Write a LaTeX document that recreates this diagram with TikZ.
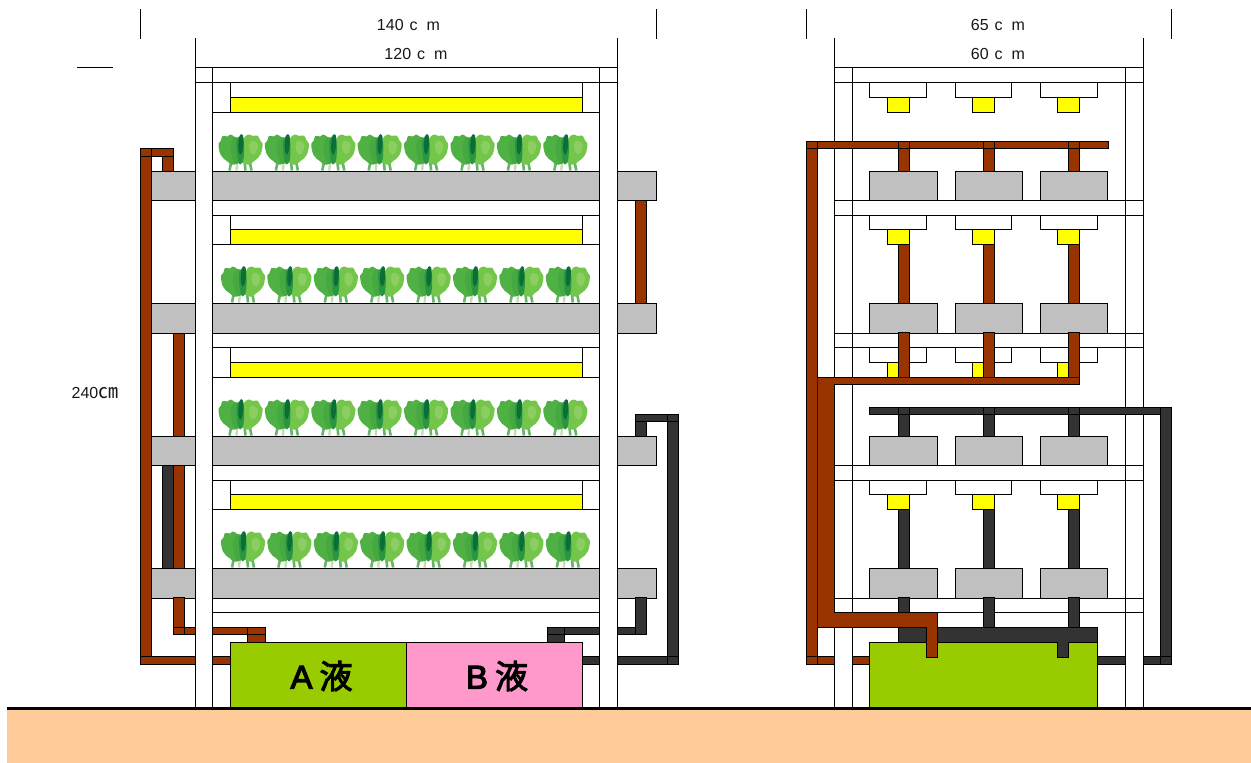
\documentclass[tikz,border=0pt]{standalone}
\usepackage{fontspec}
\setmainfont{Liberation Sans}
\newfontfamily\cjk{Noto Sans CJK JP}
\newfontfamily\cjkb[FakeBold=3]{Noto Sans CJK JP}
\newfontfamily\latb[FakeBold=3.5]{Liberation Sans}
\definecolor{brownp}{HTML}{993300}
\definecolor{darkp}{HTML}{333333}
\definecolor{tray}{HTML}{C0C0C0}
\definecolor{lamp}{HTML}{FFFF00}
\definecolor{tanka}{HTML}{99CC00}
\definecolor{tankb}{HTML}{FF99CC}
\definecolor{ground}{HTML}{FFCC99}
\definecolor{lfa}{HTML}{4FB043}
\definecolor{lfb}{HTML}{74C64A}
\definecolor{lfc}{HTML}{45A840}
\definecolor{lfd}{HTML}{0B6E36}
\definecolor{lfe}{HTML}{2A9642}
\definecolor{lff}{HTML}{8CCE62}
\definecolor{lfg}{HTML}{C5DDB5}
\definecolor{lfh}{HTML}{66B56A}
\tikzset{
  ln/.style={draw=black,line width=1pt,line cap=rect},
  bp/.style={ln,fill=brownp},
  dp/.style={ln,fill=darkp},
  gutter/.style={ln,fill=tray},
  lampbox/.style={ln,fill=lamp},
  dim/.style={inner sep=0pt,font=\fontsize{16}{16}\selectfont,text=black!90},
  tanklabel/.style={inner sep=0pt,font=\fontsize{33}{33}\selectfont},
  lettuce/.pic={
    \draw[line width=2.6pt,color=lfh] (-11,0)--(-9,-10) (11,0)--(9,-10) (5,0)--(4,-10);
    \draw[line width=2.4pt,color=lfg] (-4,0)--(-3,-10);
    \fill[lfa] plot[smooth cycle,tension=.6] coordinates {(-21.5,-21)(-22,-27)(-19.5,-30)(-18,-34.5)(-13,-34)(-10,-36)(-5,-33)(-1,-30)(1,-12)(-3,-7)(-9,-6)(-13,-9)(-17,-12)(-20,-16)};
    \fill[lfb] plot[smooth cycle,tension=.6] coordinates {(21.5,-21)(22,-27)(19.5,-30.5)(17,-35)(12,-34.5)(8,-36)(3,-31)(0,-12)(4,-7)(9,-6)(13,-9)(17,-12)(20,-16)};
    \fill[lfc] plot[smooth cycle,tension=.7] coordinates {(-10,-22)(-8,-31)(-3,-33)(0,-24)(1,-12)(-3,-7)(-7,-9)};
    \fill[lfe] plot[smooth cycle,tension=.7] coordinates {(-4,-24)(-3,-32)(0,-34)(3,-29)(3.5,-18)(2,-8)(-2,-8)};
    \fill[lfd] plot[smooth cycle,tension=.7] coordinates {(-2,-28)(-.5,-35.5)(2.5,-35)(3,-28)(2,-20)(0,-16)(-2,-20)};
    \fill[lff] plot[smooth cycle,tension=.8] coordinates {(10,-29)(16,-28)(17,-22)(13,-16)(9,-21)};
  }
}
\newcommand\rct[5]{\path[#1] (#2,#3) rectangle (#4,#5);}
\begin{document}
\begin{tikzpicture}[x=1pt,y=-1pt]
\useasboundingbox (0,0) rectangle (1251,763);
\fill[white] (0,0) rectangle (1251,763);
% ---------- ground
\fill[ground] (7,708) rectangle (1251,763);
% ---------- dimension ticks
\draw[ln,line cap=butt] (140.5,9)--(140.5,39) (656.5,9)--(656.5,39) (806.5,9)--(806.5,39) (1171.5,9)--(1171.5,39);
\draw[ln,line cap=butt] (77,67.5)--(113,67.5);
\node[dim] (dimA) at (408.5,25) {140\hspace{6pt}c\hspace{9pt}m};
\node[dim] (dimB) at (416,54) {120\hspace{6pt}c\hspace{9pt}m};
\node[dim] (dimC) at (998,25) {65\hspace{6pt}c\hspace{9pt}m};
\node[dim] (dimD) at (998,54) {60\hspace{6pt}c\hspace{9pt}m};
\node[dim] (dimE) at (95,393) {240{\cjk\fontsize{20}{20}\selectfont ㎝}};
% ---------- FRONT VIEW frame
\draw[ln,line cap=butt] (195.5,38)--(195.5,708) (617.5,38)--(617.5,708) (212.5,67)--(212.5,708) (599.5,67)--(599.5,708);
\draw[ln] (195.5,67.5)--(617.5,67.5) (195.5,82.5)--(617.5,82.5);
\foreach \a/\m/\b in {82.5/97.5/112.5,215.5/229.5/244.5,347.5/362.5/377.5,480.5/494.5/509.5}{
  \draw[ln] (212.5,\a)--(599.5,\a) (212.5,\b)--(599.5,\b);
  \draw[lampbox] (230.5,\m) rectangle (582.5,\b);
  \draw[ln] (230.5,\a)--(230.5,\b) (582.5,\a)--(582.5,\b);
}
\foreach \a/\b in {171.5/200.5,303.5/333.5,436.5/465.5,568.5/598.5}{
  \rct{gutter}{151.5}{\a}{195.5}{\b}
  \rct{gutter}{212.5}{\a}{599.5}{\b}
  \rct{gutter}{617.5}{\a}{656.5}{\b}
}
\draw[ln] (212.5,612.5)--(599.5,612.5);
% ---------- lettuces
\foreach \yy/\xo in {170.5/240.5,302.5/243,435.5/240.5,567.5/243}{
  \foreach \i in {0,...,7}{
    \pic at ({\xo+46.4*\i},\yy) {lettuce};
  }
}
% ---------- FRONT VIEW left pipes
\draw[dp] (162.5,465.5) rectangle (173.5,568.5);
\draw[bp] (173.5,333.5) rectangle (184.5,436.5);
\draw[bp] (173.5,465.5) rectangle (184.5,568.5);
\draw[bp] (173.5,597.5) rectangle (184.5,634.5);
\draw[bp] (173.5,627.5) rectangle (184.5,634.5);
\draw[bp] (184.5,627.5) rectangle (195.5,634.5);
\draw[bp] (212.5,627.5) rectangle (247.5,634.5);
\draw[bp] (247.5,627.5) rectangle (265.5,634.5);
\draw[bp] (247.5,634.5) rectangle (265.5,642.5);
\draw[bp] (140.5,156.5) rectangle (151.5,664.5);
\draw[bp] (140.5,148.5) rectangle (151.5,156.5);
\draw[bp] (151.5,148.5) rectangle (173.5,156.5);
\draw[bp] (162.5,156.5) rectangle (173.5,171.5);
\draw[bp] (140.5,656.5) rectangle (195.5,664.5);
\draw[bp] (212.5,656.5) rectangle (230.5,664.5);
% ---------- FRONT VIEW right pipes
\draw[bp] (635.5,200.5) rectangle (646.5,303.5);
\draw[dp] (635.5,414.5) rectangle (667.5,421.5);
\draw[dp] (635.5,421.5) rectangle (646.5,436.5);
\draw[dp] (667.5,421.5) rectangle (678.5,656.5);
\draw[dp] (667.5,414.5) rectangle (678.5,421.5);
\draw[dp] (617.5,656.5) rectangle (667.5,664.5);
\draw[dp] (667.5,656.5) rectangle (678.5,664.5);
\draw[dp] (582.5,656.5) rectangle (599.5,664.5);
\draw[dp] (635.5,597.5) rectangle (646.5,634.5);
\draw[dp] (617.5,627.5) rectangle (635.5,634.5);
\draw[dp] (564.5,627.5) rectangle (599.5,634.5);
\draw[dp] (547.5,627.5) rectangle (564.5,634.5);
\draw[dp] (547.5,634.5) rectangle (564.5,642.5);
% ---------- FRONT VIEW tanks
\draw[ln,fill=tanka] (230.5,642.5) rectangle (406.5,708);
\draw[ln,fill=tankb] (406.5,642.5) rectangle (582.5,708);
\node[tanklabel] (tankA) at (321.5,676) {{\latb A}\hspace{7pt}{\cjkb 液}};
\node[tanklabel] (tankB) at (497,676) {{\latb B}\hspace{7pt}{\cjkb 液}};
% ---------- SIDE VIEW frame
\draw[ln,line cap=butt] (834.5,38)--(834.5,708) (1143.5,38)--(1143.5,708) (852.5,67)--(852.5,708) (1125.5,67)--(1125.5,708);
\foreach \a in {67.5,82.5,200.5,215.5,333.5,347.5,465.5,480.5,598.5,612.5}{
  \draw[ln] (834.5,\a)--(1143.5,\a);
}
\foreach \xa/\xb/\la/\lb/\ga/\gb in {869.5/926.5/887.5/909.5/869.5/937.5,955.5/1011.5/972.5/994.5/955.5/1022.5,1040.5/1097.5/1057.5/1079.5/1040.5/1107.5}{
  \foreach \a/\m/\b in {82.5/97.5/112.5,215.5/229.5/244.5,347.5/362.5/377.5,480.5/494.5/509.5}{
    \draw[ln] (\xa,\a) rectangle (\xb,\m);
    \draw[lampbox] (\la,\m) rectangle (\lb,\b);
  }
  \foreach \a/\b in {171.5/200.5,303.5/333.5,436.5/465.5,568.5/598.5}{
    \rct{gutter}{\ga}{\a}{\gb}{\b}
  }
}
% ---------- SIDE VIEW pipes
\foreach \pa/\pb in {898.5/909.5,983.5/994.5,1068.5/1079.5}{
  \draw[bp] (\pa,148.5) rectangle (\pb,171.5);
  \draw[bp] (\pa,244.5) rectangle (\pb,303.5);
  \draw[bp] (\pa,332.5) rectangle (\pb,377.5);
  \draw[dp] (\pa,414.5) rectangle (\pb,436.5);
  \draw[dp] (\pa,509.5) rectangle (\pb,568.5);
  \draw[dp] (\pa,597.5) rectangle (\pb,627.5);
}
% top brown header
\path[bp] (806.5,141.5) rectangle (1108.5,148.5);
\draw[ln] (817.5,141.5)--(817.5,148.5);
\foreach \pa/\pb in {898.5/909.5,983.5/994.5,1068.5/1079.5}{\draw[ln] (\pa,141.5)--(\pa,148.5) (\pb,141.5)--(\pb,148.5);}
% dark upper header
\draw[dp] (869.5,407.5) rectangle (1171.5,414.5);
\foreach \pa/\pb in {898.5/909.5,983.5/994.5,1068.5/1079.5}{\draw[ln] (\pa,407.5)--(\pa,414.5) (\pb,407.5)--(\pb,414.5);}
\draw[dp] (1160.5,407.5) rectangle (1171.5,664.5);
\draw[ln] (1160.5,656.5)--(1171.5,656.5);
% dark lower manifold and bottom
\draw[dp] (898.5,627.5) rectangle (1097.5,642.5);
\draw[dp] (1097.5,656.5) rectangle (1125.5,664.5);
\draw[dp] (1143.5,656.5) rectangle (1160.5,664.5);
% tank
\draw[ln,fill=tanka] (869.5,642.5) rectangle (1097.5,708);
\path[fill=darkp] (1057.5,641.5) rectangle (1068.5,657.5);
\draw[ln] (1057.5,642.5)--(1057.5,657.5)--(1068.5,657.5)--(1068.5,642.5);
% brown risers and manifolds
\draw[bp] (806.5,141.5) rectangle (817.5,664.5);
\draw[ln] (806.5,148.5)--(817.5,148.5) (806.5,656.5)--(817.5,656.5);
\draw[bp] (817.5,656.5) rectangle (834.5,664.5);
\draw[bp] (852.5,656.5) rectangle (869.5,664.5);
\fill[brownp] (817.5,377.5) -- (1079.5,377.5) -- (1079.5,384.5) -- (834.5,384.5) -- (834.5,612.5) -- (937.5,612.5) -- (937.5,657.5) -- (926.5,657.5) -- (926.5,627.5) -- (817.5,627.5) -- cycle;
\draw[ln] (817.5,377.5) -- (898.5,377.5) (909.5,377.5)--(983.5,377.5) (994.5,377.5)--(1068.5,377.5) (1079.5,377.5) -- (1079.5,384.5) -- (834.5,384.5) -- (834.5,612.5) -- (937.5,612.5) -- (937.5,657.5) -- (926.5,657.5) -- (926.5,627.5) -- (817.5,627.5);
% ---------- ground line
\draw[black,line width=2.6pt] (7,708.5)--(1251,708.5);
\end{tikzpicture}
\end{document}
